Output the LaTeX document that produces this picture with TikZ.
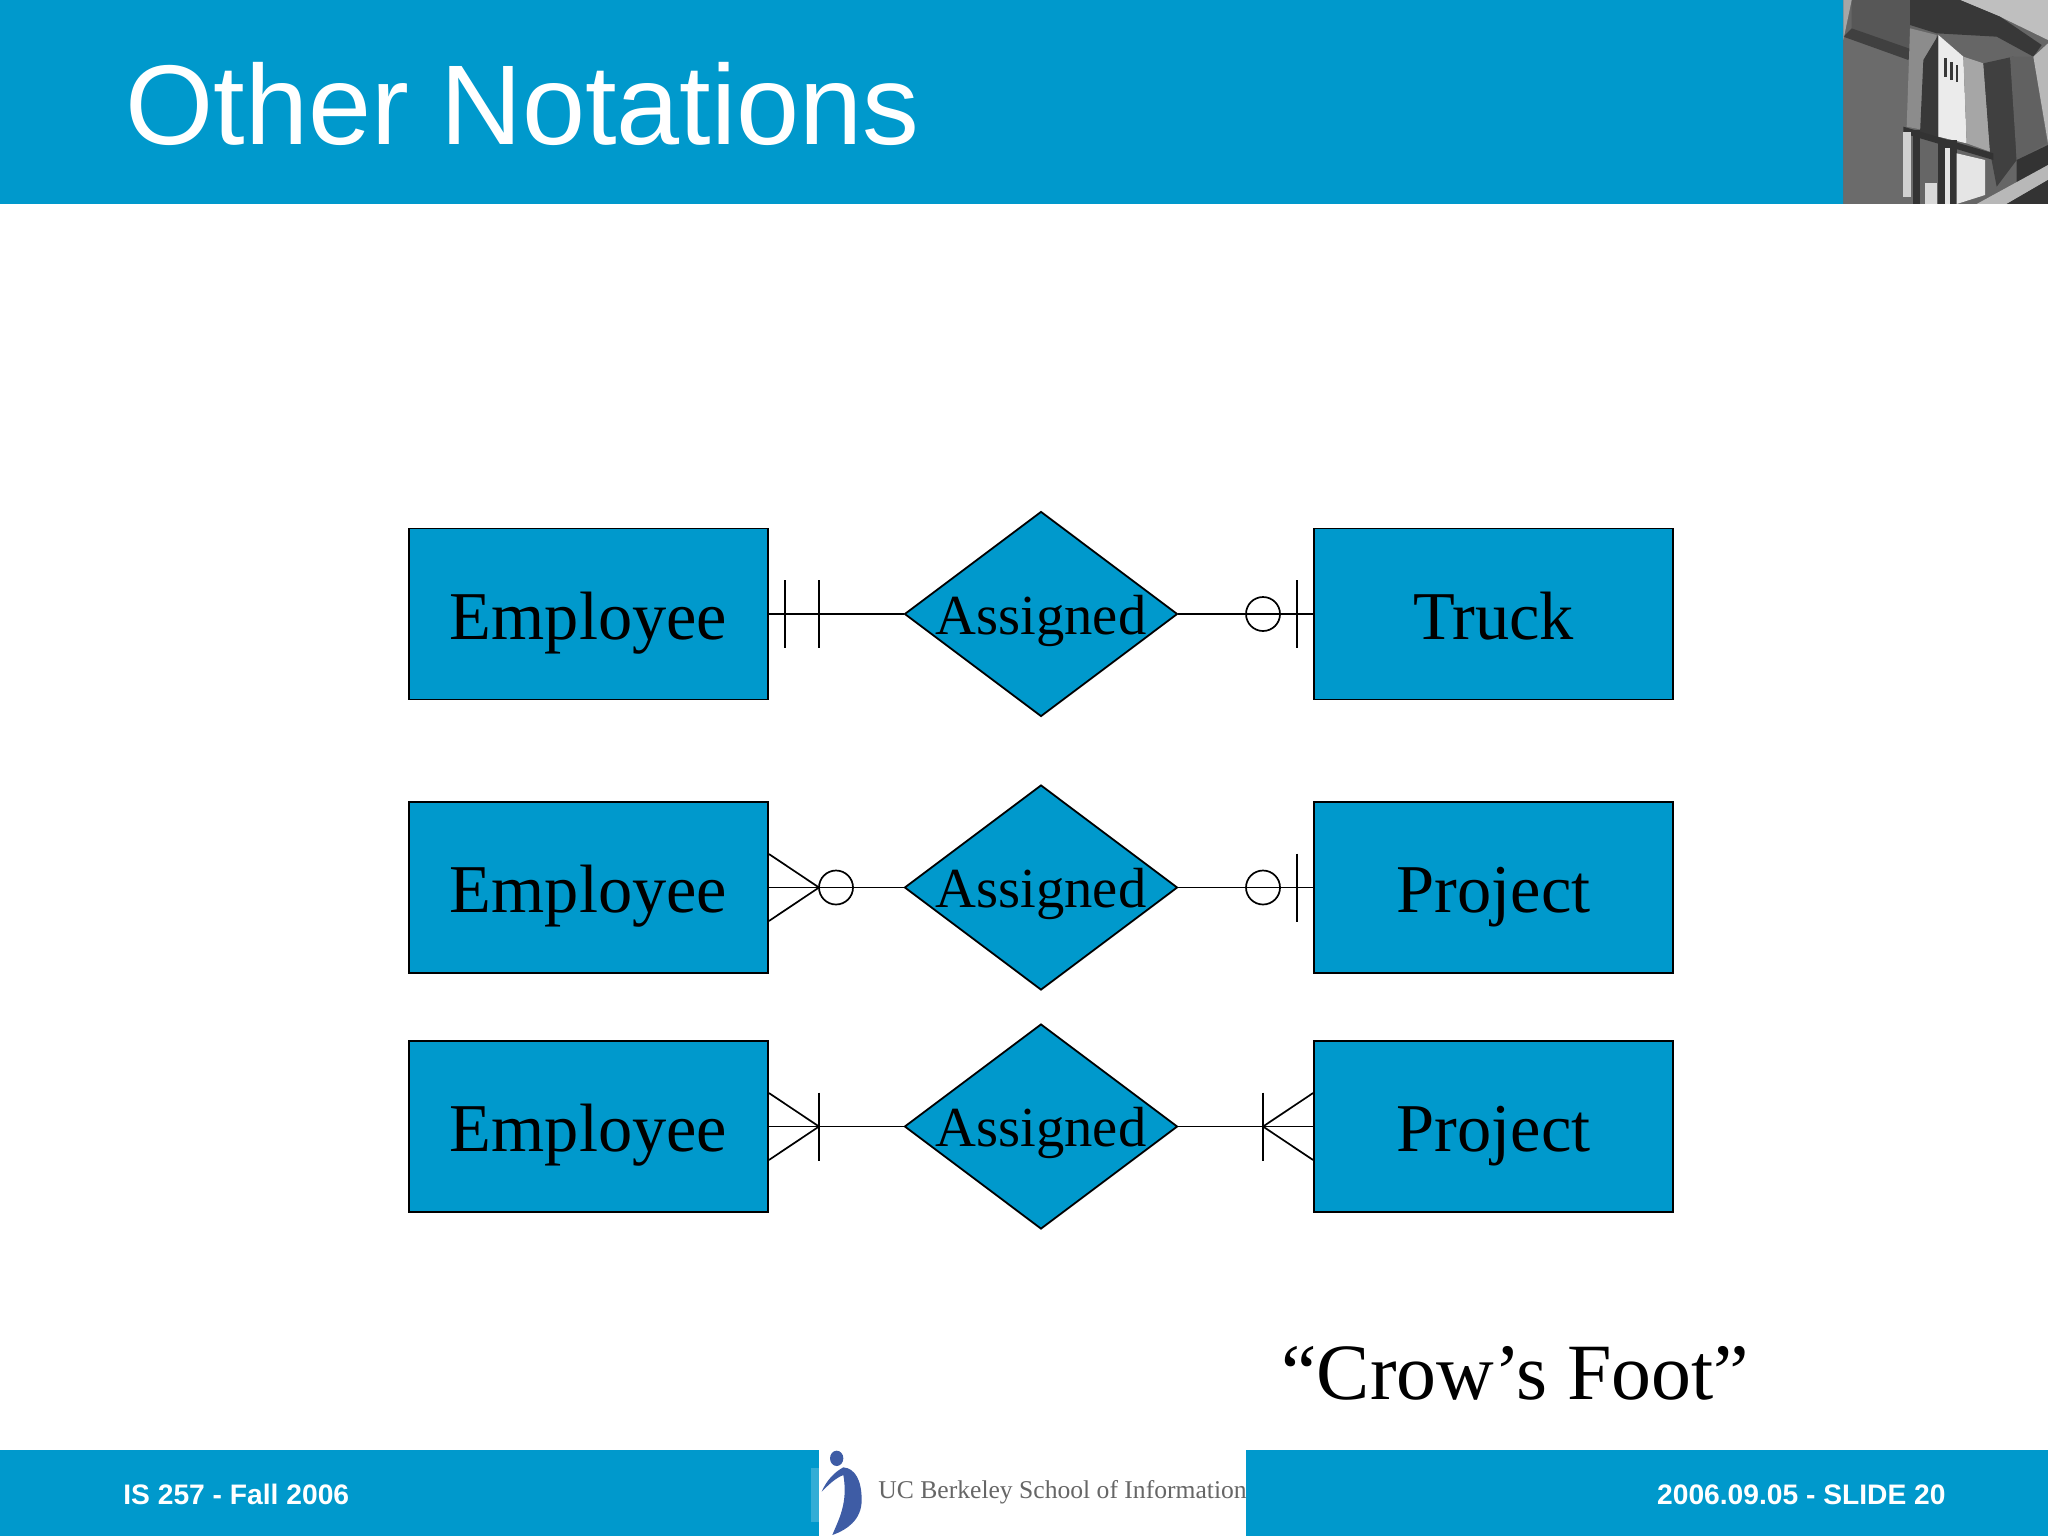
\documentclass[tikz,border=0pt]{standalone}
\usepackage{fontspec}
\setmainfont{Liberation Serif}
\newfontfamily\slidesans{Liberation Sans}
\usetikzlibrary{shapes.geometric}
\definecolor{slideblue}{RGB}{0,153,204}
\definecolor{logoblue}{RGB}{62,92,165}
\newcommand{\flatlabel}[1]{\makebox[0pt]{\raisebox{-10.2pt}[0pt][0pt]{#1}}}
\tikzset{
  entitybox/.style = {draw = black, fill = slideblue, line width = 0.9pt, inner sep = 0pt, minimum width = 179.5pt, minimum height = 85.5pt, font = \fontsize{34.2}{34.2}\selectfont, text height = 32pt, text depth = 7pt},
  relbox/.style = {diamond, draw = black, fill = slideblue, line width = 0.9pt, inner sep = 0pt, minimum width = 136.5pt, minimum height = 102.5pt, font = \fontsize{28.3}{28.3}\selectfont},
  link/.style = {draw = black, line width = 0.85pt},
  zerocircle/.style = {circle, draw = black, line width = 0.85pt, inner sep = 0pt, minimum size = 17pt},
  slidetext/.style = {inner sep = 0pt, anchor = base west}
}
\begin{document}
\begin{tikzpicture}[x = 0.5pt, y = -0.5pt]
\useasboundingbox (0,0) rectangle (2048,1536);
% header and footer bands
\fill [slideblue] (0,0) rectangle (2048,204);
\fill [slideblue] (0,1450) rectangle (2048,1536);
\node [slidetext, text = white, font = \slidesans\fontsize{56.7}{56.7}\selectfont] (title) at (125,144) {Other Notations};
\node [slidetext, text = white, font = \slidesans\bfseries\fontsize{14.1}{14.1}\selectfont] (course) at (123,1504) {IS 257 - Fall 2006};
\node [slidetext, anchor = base east, text = white, font = \slidesans\bfseries\fontsize{14.1}{14.1}\selectfont] (slideno) at (1946,1504) {2006.09.05 - SLIDE 20};
% photo in the corner
\begin{scope}[shift = {(1780,0)}, scale = 1/3]
\clip (190,0) rectangle (804,612);
\fill [black!60] (190,0) rectangle (804,612);
\fill [black!58] (190,110) -- (400,165) -- (400,612) -- (190,612) -- cycle;
\fill [black!66] (215,0) -- (390,0) -- (390,150) -- (215,85) -- cycle;
\fill [black!75] (190,110) -- (215,85) -- (400,150) -- (385,180) -- cycle;
\fill [black!35] (190,0) -- (215,0) -- (190,120) -- cycle;
\fill [black!25] (540,0) -- (804,0) -- (804,120) -- (660,50) -- cycle;
\fill [black!78] (390,0) -- (540,0) -- (660,50) -- (785,135) -- (760,170) -- (650,110) -- (470,100) -- (390,75) -- cycle;
\fill [black!45] (390,85) -- (470,105) -- (430,390) -- (380,380) -- cycle;
\fill [black!78] (430,180) -- (475,105) -- (475,420) -- (420,400) -- cycle;
\fill [black!8] (475,105) -- (550,170) -- (560,430) -- (475,410) -- cycle;
\fill [black!35] (550,170) -- (610,190) -- (630,455) -- (560,430) -- cycle;
\fill [black!78] (492,175) rectangle (500,230);
\fill [black!78] (510,185) rectangle (518,240);
\fill [black!78] (527,195) rectangle (535,245);
\fill [black!75] (610,190) -- (700,170) -- (710,480) -- (650,560) -- (630,455) -- cycle;
\fill [black!62] (690,170) -- (760,170) -- (800,430) -- (710,480) -- cycle;
\fill [black!28] (760,170) -- (804,130) -- (804,430) -- cycle;
\fill [black!80] (370,380) -- (640,460) -- (640,480) -- (370,400) -- cycle;
\fill [black!80] (400,390) rectangle (420,612);
\fill [black!80] (475,420) rectangle (530,612);
\fill [black!10] (495,445) rectangle (510,612);
\fill [black!10] (530,460) -- (615,480) -- (615,585) -- (530,612) -- cycle;
\fill [black!18] (370,395) rectangle (392,590);
\fill [black!15] (435,550) rectangle (472,612);
\fill [black!80] (710,480) -- (804,435) -- (804,495) -- (710,550) -- cycle;
\fill [black!28] (590,612) -- (804,495) -- (804,540) -- (680,612) -- cycle;
\fill [black!80] (680,612) -- (804,540) -- (804,612) -- cycle;
\end{scope}
% logo in the footer
\fill [white] (819,1450) rectangle (1246,1536);
\fill [slideblue!80!white] (811,1468) rectangle (819,1522);
\begin{scope}[shift = {(780,1430)}, scale = 1/3]
\fill [logoblue] (170,85) ellipse (20 and 23);
\fill [logoblue] (190,112) .. controls (225,115) and (245,150) .. (245,210) .. controls (245,270) and (200,300) .. (157,315) .. controls (175,270) and (205,220) .. (190,135) .. controls (165,145) and (145,165) .. (125,185) .. controls (140,150) and (165,125) .. (190,112) -- cycle;
\end{scope}
\node [slidetext, text = black!60, font = \fontsize{12.8}{12.8}\selectfont] (school) at (878,1498) {UC Berkeley School of Information};
% the three rows
\foreach \n/\y/\other in {1/614/Truck, 2/887.5/Project, 3/1126.5/Project}
{
  \node [entitybox] (emp\n) at (588.5,\y) {Employee};
  \node [relbox] (rel\n) at (1041,\y) {\flatlabel{Assigned}};
  \node [entitybox] (ent\n) at (1493.5,\y) {\other};
  \draw [link] (emp\n) -- (rel\n);
  \draw [link] (rel\n) -- (ent\n);
}
% bars
\foreach \n/\x/\y in {a/785/614, b/819/614, c/1297/614, d/1297/887.5, e/819/1126.5, f/1263/1126.5}
{
  \coordinate (bar\n top) at (\x,\y-34);
  \coordinate (bar\n bot) at (\x,\y+34);
  \draw [link] (bar\n top) -- (bar\n bot);
}
% circles
\foreach \n/\x/\y in {a/1263/614, b/836/887.5, c/1263/887.5}
  \node [zerocircle] (zero\n) at (\x,\y) {};
% feet
\foreach \n/\from/\x/\y in {a/emp2.east/819/887.5, b/emp3.east/819/1126.5, c/ent3.west/1263/1126.5}
{
  \coordinate (tip\n) at (\x,\y);
  \draw [link] ([yshift = 16.75pt]\from) -- (tip\n) -- ([yshift = -16.75pt]\from);
}
\node [slidetext, font = \fontsize{39.9}{39.9}\selectfont] (crowsfoot) at (1281,1399) {“Crow’s Foot”};
\end{tikzpicture}
\end{document}
